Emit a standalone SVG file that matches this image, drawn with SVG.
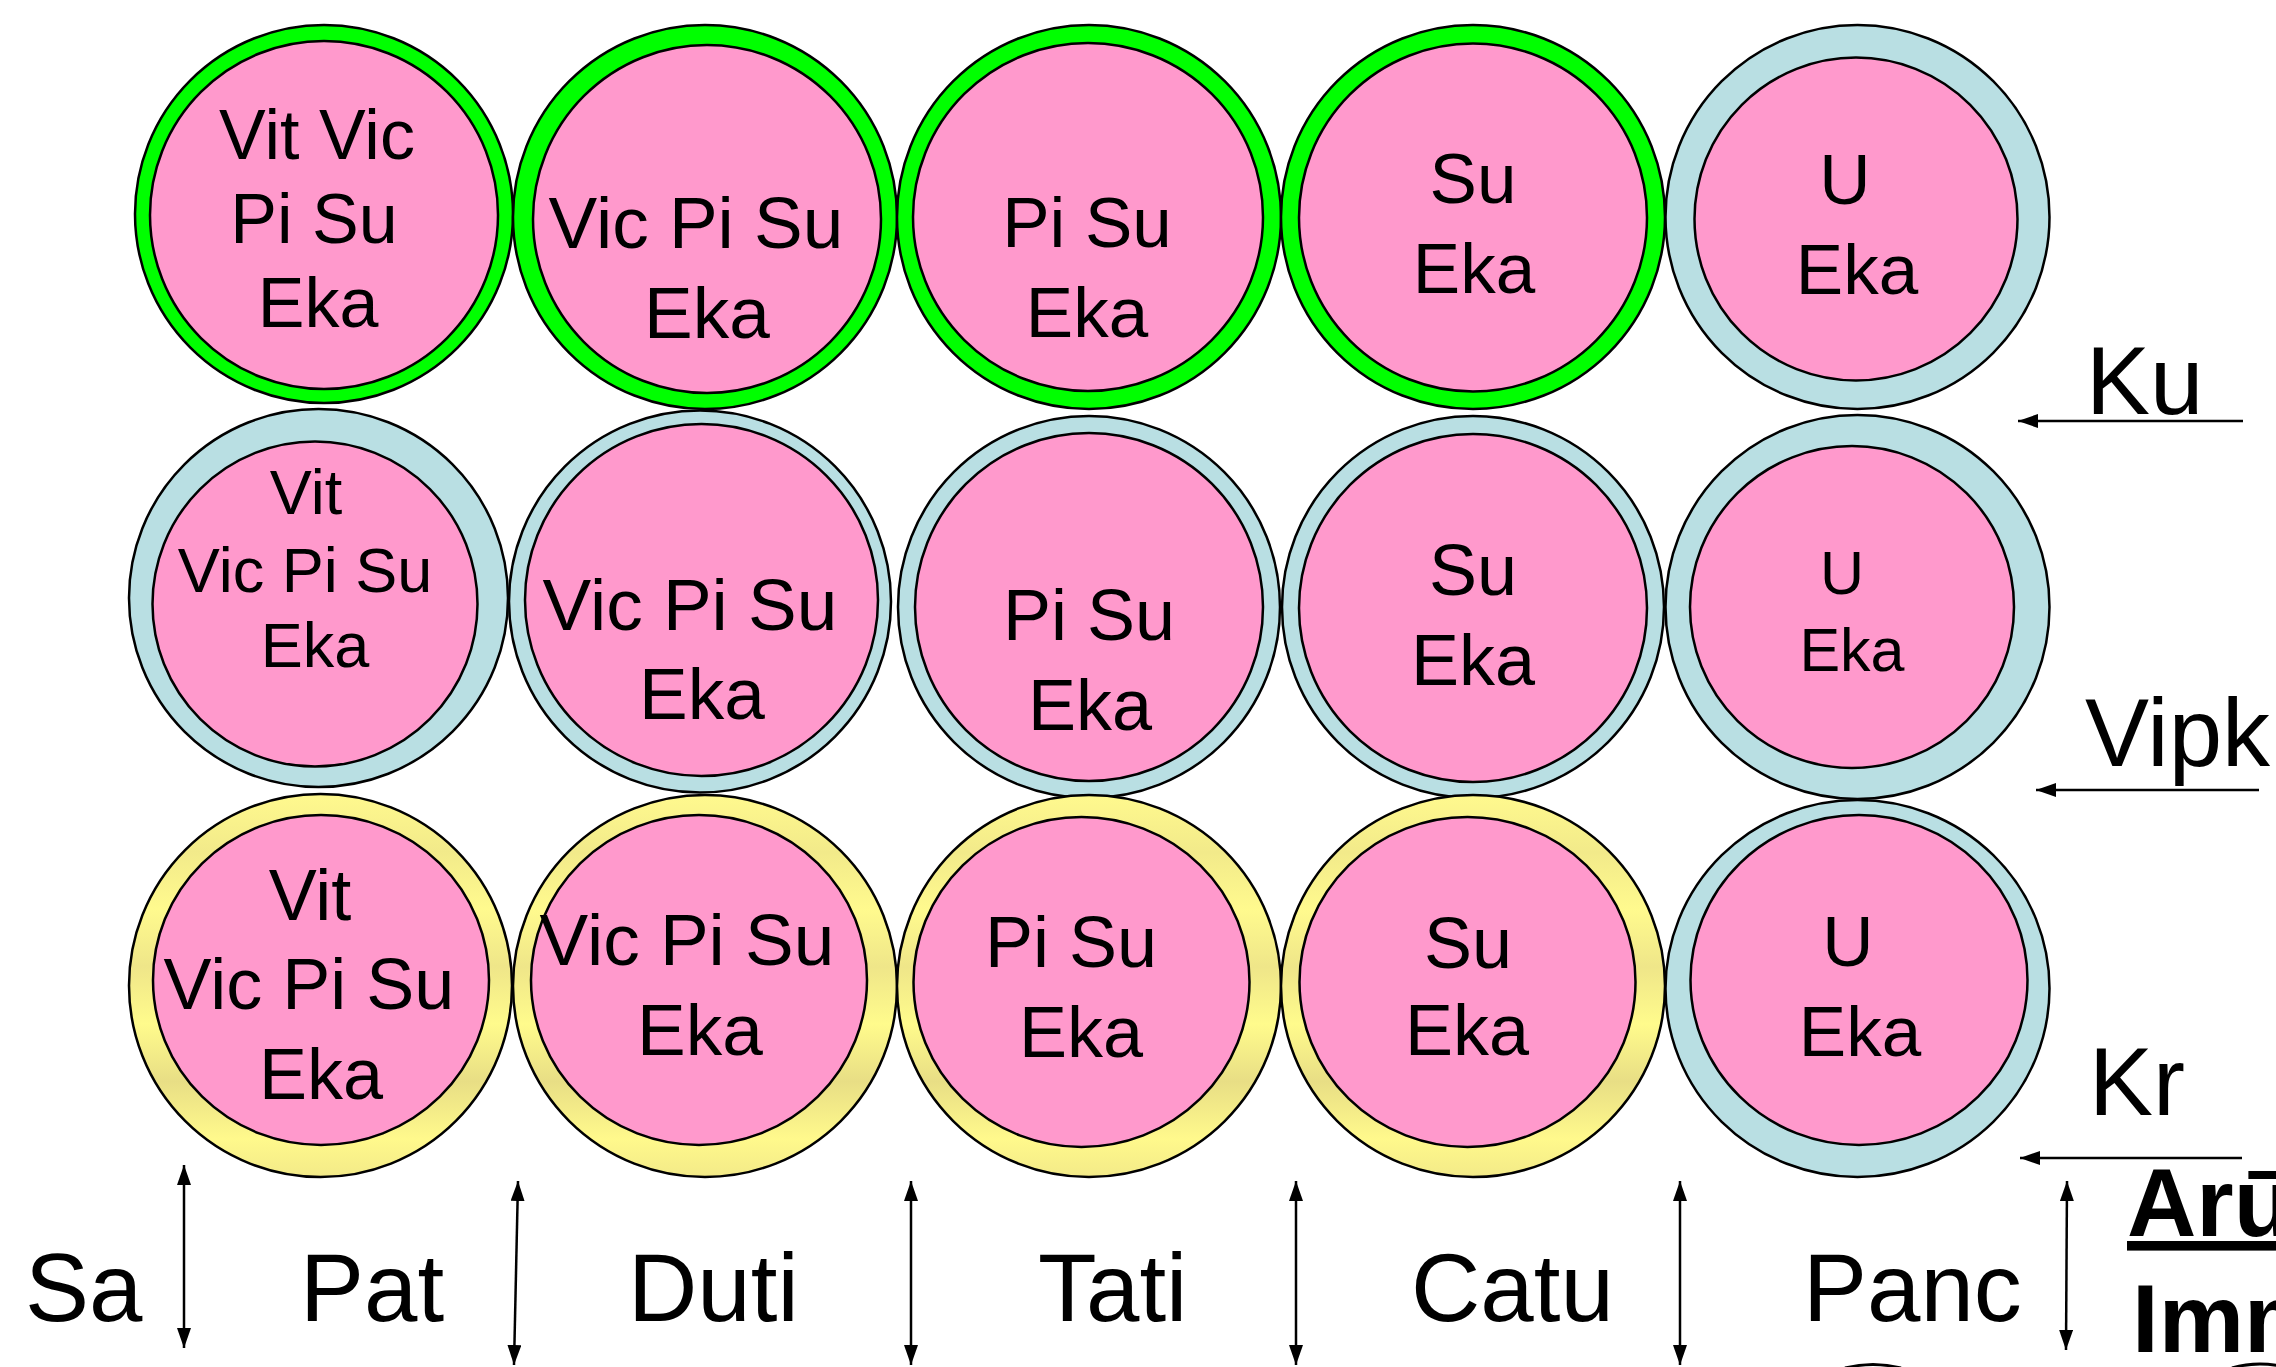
<svg xmlns="http://www.w3.org/2000/svg" width="2276" height="1367" viewBox="0 0 2276 1367">
<style>
.o{stroke:#000;stroke-width:2.5}
.g{fill:#00FF00}
.b{fill:#B9DFE3}
.y{fill:url(#yel)}
.p{fill:#FF99CC;stroke:#000;stroke-width:2.5}
text{font-family:"Liberation Sans",Arial,sans-serif;fill:#000;text-anchor:middle}
.big{font-size:96px;text-anchor:start}
.bold{font-size:96px;font-weight:bold;text-anchor:start}
.c{stroke:#000;stroke-width:2.5;fill:none}
</style>
<defs>
<linearGradient id="yel" x1="0" y1="0" x2="0" y2="1">
<stop offset="0" stop-color="#FFF98E"/>
<stop offset="0.15" stop-color="#F2EA8A"/>
<stop offset="0.3" stop-color="#FFFA8E"/>
<stop offset="0.45" stop-color="#EFE689"/>
<stop offset="0.6" stop-color="#FFFB8C"/>
<stop offset="0.75" stop-color="#E8DE85"/>
<stop offset="0.9" stop-color="#FFF98C"/>
<stop offset="1" stop-color="#F3EA88"/>
</linearGradient>
<marker id="ah" viewBox="0 0 20 14" refX="20" refY="7" markerWidth="20" markerHeight="14" markerUnits="userSpaceOnUse" orient="auto-start-reverse">
<path d="M0,0 L20,7 L0,14 z" fill="#000"/>
</marker>
</defs>
<rect width="2276" height="1367" fill="#fff"/>

<g id="n11"><ellipse class="o g" cx="324" cy="214" rx="189" ry="189"/><ellipse class="p" cx="324" cy="215" rx="174" ry="174"/>
<text style="font-size:70px"><tspan x="317" y="159">Vit Vic</tspan><tspan x="314" y="243">Pi Su</tspan><tspan x="318" y="327">Eka</tspan></text></g>
<g id="n12"><ellipse class="o g" cx="705" cy="217" rx="192" ry="192"/><ellipse class="p" cx="707" cy="219" rx="174" ry="174"/>
<text style="font-size:73px"><tspan x="696" y="248">Vic Pi Su</tspan><tspan x="707" y="338">Eka</tspan></text></g>
<g id="n13"><ellipse class="o g" cx="1089" cy="217" rx="192" ry="192"/><ellipse class="p" cx="1088" cy="217" rx="175" ry="174"/>
<text style="font-size:71px"><tspan x="1087" y="247">Pi Su</tspan><tspan x="1087" y="337">Eka</tspan></text></g>
<g id="n14"><ellipse class="o g" cx="1473" cy="217" rx="192" ry="192"/><ellipse class="p" cx="1473" cy="217.5" rx="174" ry="174"/>
<text style="font-size:71px"><tspan x="1473" y="203">Su</tspan><tspan x="1474" y="293">Eka</tspan></text></g>
<g id="n15"><ellipse class="o b" cx="1857.5" cy="217" rx="192" ry="192"/><ellipse class="p" cx="1856" cy="219" rx="161.5" ry="161.5"/>
<text style="font-size:71px"><tspan x="1845" y="204">U</tspan><tspan x="1857" y="294">Eka</tspan></text></g>

<g id="n21"><ellipse class="o b" cx="318.5" cy="598" rx="189.5" ry="189"/><ellipse class="p" cx="315" cy="604" rx="162.5" ry="162.5"/>
<text style="font-size:63px"><tspan x="306" y="514">Vit</tspan><tspan x="305" y="592">Vic Pi Su</tspan><tspan x="315" y="667">Eka</tspan></text></g>
<g id="n22"><ellipse class="o b" cx="700" cy="601.5" rx="191" ry="191"/><ellipse class="p" cx="701.5" cy="600" rx="176.5" ry="176"/>
<text style="font-size:73px"><tspan x="690" y="630">Vic Pi Su</tspan><tspan x="702" y="719">Eka</tspan></text></g>
<g id="n23"><ellipse class="o b" cx="1089" cy="607" rx="191" ry="191"/><ellipse class="p" cx="1089" cy="607" rx="174" ry="174"/>
<text style="font-size:72px"><tspan x="1089" y="640">Pi Su</tspan><tspan x="1090" y="730">Eka</tspan></text></g>
<g id="n24"><ellipse class="o b" cx="1473" cy="607" rx="191" ry="191"/><ellipse class="p" cx="1473" cy="608" rx="174" ry="174"/>
<text style="font-size:72px"><tspan x="1473" y="595">Su</tspan><tspan x="1473" y="685">Eka</tspan></text></g>
<g id="n25"><ellipse class="o b" cx="1857.5" cy="607" rx="192" ry="192"/><ellipse class="p" cx="1852" cy="607" rx="162" ry="161"/>
<text style="font-size:61px"><tspan x="1842" y="594">U</tspan><tspan x="1852" y="671">Eka</tspan></text></g>

<g id="n31"><ellipse class="o y" cx="320.5" cy="985.5" rx="191.5" ry="191.5"/><ellipse class="p" cx="321" cy="980" rx="168" ry="165"/>
<text style="font-size:72px"><tspan x="310" y="920">Vit</tspan><tspan x="309" y="1009">Vic Pi Su</tspan><tspan x="321" y="1099">Eka</tspan></text></g>
<g id="n32"><ellipse class="o y" cx="705" cy="986" rx="192" ry="191"/><ellipse class="p" cx="699" cy="980" rx="168" ry="165"/>
<text style="font-size:73px"><tspan x="687" y="965">Vic Pi Su</tspan><tspan x="700" y="1055">Eka</tspan></text></g>
<g id="n33"><ellipse class="o y" cx="1089" cy="986" rx="192" ry="191"/><ellipse class="p" cx="1081.5" cy="982" rx="168" ry="165"/>
<text style="font-size:72px"><tspan x="1071" y="967">Pi Su</tspan><tspan x="1081" y="1057">Eka</tspan></text></g>
<g id="n34"><ellipse class="o y" cx="1473" cy="986" rx="192" ry="191"/><ellipse class="p" cx="1467.5" cy="982" rx="168" ry="165"/>
<text style="font-size:72px"><tspan x="1468" y="968">Su</tspan><tspan x="1467" y="1055">Eka</tspan></text></g>
<g id="n35"><ellipse class="o b" cx="1857.5" cy="988.5" rx="192" ry="188.5"/><ellipse class="p" cx="1859" cy="980" rx="168.5" ry="165"/>
<text style="font-size:71px"><tspan x="1848" y="966">U</tspan><tspan x="1860" y="1056">Eka</tspan></text></g>

<g id="labels">
<text class="big" x="2086" y="414">Ku</text>
<text class="big" x="2085" y="766">Vipk</text>
<text class="big" x="2089" y="1115">Kr</text>
<text class="big" x="25" y="1321">Sa</text>
<text class="big" x="300" y="1321">Pat</text>
<text class="big" x="628" y="1321">Duti</text>
<text class="big" x="1038" y="1321">Tati</text>
<text class="big" x="1411" y="1321">Catu</text>
<text class="big" x="1803" y="1321">Panc</text>
<text class="bold" x="2127" y="1236" text-decoration="underline">Arū</text>
<text class="bold" x="2132" y="1352">Imm</text>
</g>

<g id="connectors">
<line class="c" x1="2243" y1="421" x2="2018" y2="421" marker-end="url(#ah)"/>
<line class="c" x1="2259" y1="790" x2="2036" y2="790" marker-end="url(#ah)"/>
<line class="c" x1="2242" y1="1158" x2="2020" y2="1158" marker-end="url(#ah)"/>
<line class="c" x1="184" y1="1165" x2="184" y2="1348" marker-start="url(#ah)" marker-end="url(#ah)"/>
<line class="c" x1="518" y1="1181" x2="514" y2="1365" marker-start="url(#ah)" marker-end="url(#ah)"/>
<line class="c" x1="911" y1="1181" x2="911" y2="1365" marker-start="url(#ah)" marker-end="url(#ah)"/>
<line class="c" x1="1296" y1="1181" x2="1296" y2="1365" marker-start="url(#ah)" marker-end="url(#ah)"/>
<line class="c" x1="1680" y1="1181" x2="1680" y2="1365" marker-start="url(#ah)" marker-end="url(#ah)"/>
<line class="c" x1="2067" y1="1181" x2="2066" y2="1350" marker-start="url(#ah)" marker-end="url(#ah)"/>
</g>

<g id="edge-arcs">
<path d="M1845,1368 Q1873,1361 1901,1368" fill="none" stroke="#000" stroke-width="3"/>
<path d="M2232,1368 Q2256,1361 2280,1366" fill="none" stroke="#000" stroke-width="3"/>
</g>
</svg>
